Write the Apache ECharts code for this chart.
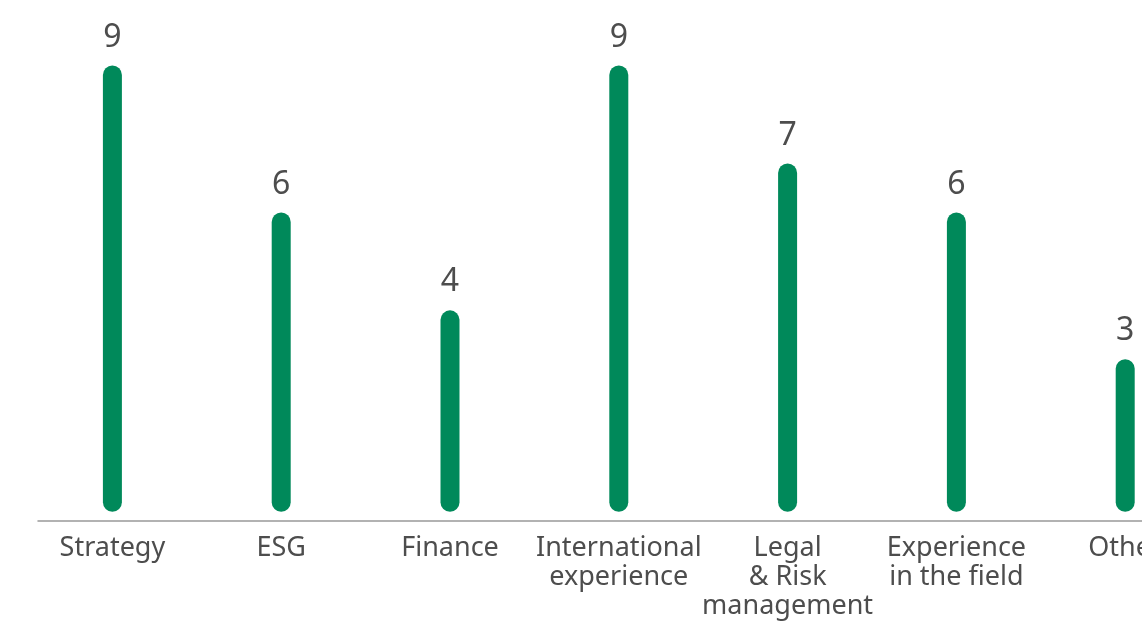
<!DOCTYPE html>
<html>
<head>
<meta charset="utf-8">
<script src="https://cdn.jsdelivr.net/npm/echarts@6/dist/echarts.min.js"></script>
<style>
  html, body { margin: 0; padding: 0; background: #fff; overflow: hidden; width: 1142px; height: 621px; }
  #chart { width: 1250px; height: 621px; }
</style>
</head>
<body>
<div id="chart"></div>
<script>
const categories = [
  'Strategy',
  'ESG',
  'Finance',
  'International\nexperience',
  'Legal\n& Risk\nmanagement',
  'Experience\nin the field',
  'Other'
];
const values = [9, 6, 4, 9, 7, 6, 3];

const GREEN = '#00895A';
const TEXT = '#4d4d4d';
const FONT = '"Noto Sans", "Open Sans", sans-serif';
const BAR_W = 19;
const CAP_EXTRA = 5.5;

const chart = echarts.init(document.getElementById('chart'), null, { renderer: 'canvas' });

chart.setOption({
  animation: false,
  backgroundColor: '#ffffff',
  grid: [
    { left: 28, right: 40.4, top: 16.6, bottom: 100.7 },
    { left: 38, right: 40.4, top: 16.6, bottom: 100.7 }
  ],
  xAxis: [{
    type: 'category',
    gridIndex: 0,
    data: categories,
    axisLine: { show: false },
    axisTick: { show: false },
    axisLabel: {
      interval: 0,
      color: TEXT,
      fontFamily: FONT,
      fontSize: 27,
      lineHeight: 29,
      margin: 18
    }
  }, {
    type: 'category',
    gridIndex: 1,
    data: categories,
    axisLine: { show: true, onZero: false, lineStyle: { color: '#999999', width: 1.5 } },
    axisTick: { show: false },
    axisLabel: { show: false },
    splitLine: { show: false }
  }],
  yAxis: [{
    type: 'value',
    gridIndex: 0,
    min: -0.2,
    max: 10,
    show: false,
    splitLine: { show: false }
  }, {
    type: 'value',
    gridIndex: 1,
    min: -0.2,
    max: 10,
    show: false,
    splitLine: { show: false }
  }],
  series: [{
    type: 'custom',
    xAxisIndex: 0,
    yAxisIndex: 0,
    data: values.map((v, i) => [i, v]),
    encode: { x: 0, y: 1 },
    renderItem: function (params, api) {
      const i = api.value(0);
      const v = api.value(1);
      const top = api.coord([i, v]);
      const base = api.coord([i, 0]);
      return {
        type: 'rect',
        shape: {
          x: top[0] - BAR_W / 2,
          y: top[1],
          width: BAR_W,
          height: base[1] - top[1] + CAP_EXTRA,
          r: BAR_W / 2
        },
        style: { fill: GREEN },
        textContent: {
          style: {
            text: String(v),
            fill: TEXT,
            fontFamily: FONT,
            fontSize: 32
          }
        },
        textConfig: { position: 'top', distance: 12 }
      };
    }
  }]
});
</script>
</body>
</html>
